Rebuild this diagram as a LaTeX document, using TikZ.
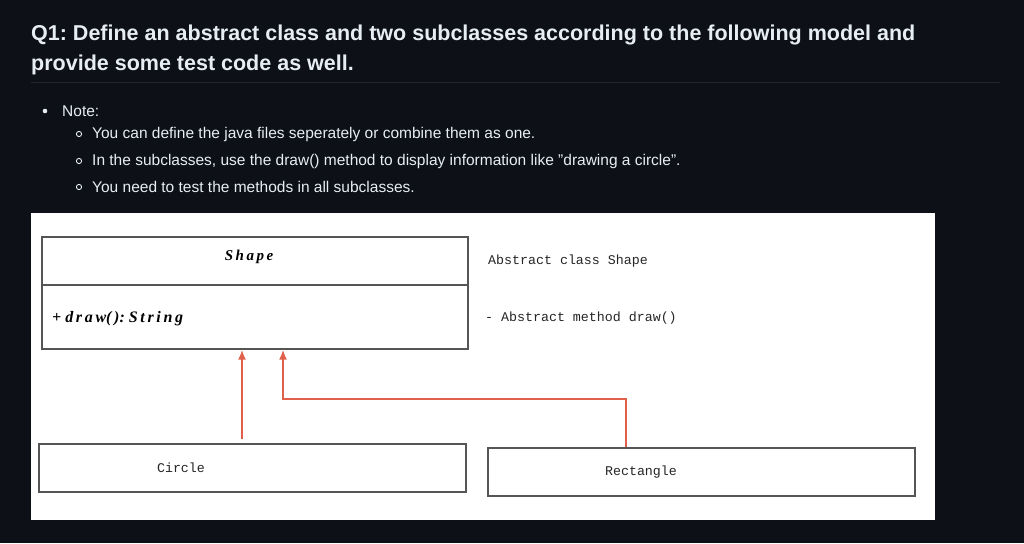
\documentclass[tikz,border=0pt]{standalone}
\usepackage{fontspec}
\setmainfont{Liberation Sans}
\newfontfamily\codefont{Liberation Mono}
\newfontfamily\umlfont{Liberation Serif}
\usetikzlibrary{positioning,arrows.meta}
\frenchspacing
\definecolor{pagebg}{HTML}{0D1117}
\definecolor{pagetext}{HTML}{E6EDF3}
\definecolor{rulecol}{HTML}{21262D}
\definecolor{boxline}{HTML}{555555}
\definecolor{inhred}{HTML}{E0604A}
\tikzset{
	umlbox/.style={draw=boxline, line width=1.2pt, fill=white, inner sep=0pt},
	codetext/.style={font=\codefont\fontsize{13.3}{15}\selectfont, text=black!85, inner sep=0pt},
	notetext/.style={font=\fontsize{15.5}{18}\selectfont, text=pagetext, anchor=west, inner sep=0pt},
	titletext/.style={font=\bfseries\fontsize{21.5}{25}\selectfont, text=pagetext, anchor=west, inner sep=0pt},
	inh/.style={draw=inhred, line width=2pt, -{Latex[length=10pt,width=8pt]}},
}
\begin{document}
\begin{tikzpicture}[x=1pt,y=-1pt]
	\fill[pagebg] (0,0) rectangle (1024,543);
	\useasboundingbox (0,0) rectangle (1024,543);
	% heading
	\node[titletext] (title1) at (31,35) {Q1: Define an abstract class and two subclasses according to the following model and};
	\node[titletext] (title2) at (31,65) {provide some test code as well.};
	\draw[rulecol, line width=1pt] (31,82) -- (1000,82);
	% notes
	\fill[pagetext] (45,111) circle (2.3);
	\node[notetext] (note) at (62,111) {Note:};
	\foreach \y/\txt in {134/{You can define the java files seperately or combine them as one.},
		161/{In the subclasses, use the draw() method to display information like \symbol{34}drawing a circle\symbol{34}.},
		187/{You need to test the methods in all subclasses.}} {
		\draw[pagetext, line width=0.9pt] (79,\y) circle (2.6);
		\node[notetext] at (92,\y) {\txt};
	}
	% model
	\fill[white] (31,213) rectangle (935,520);
	\node[umlbox, minimum width=426pt, minimum height=48pt] (shape) at (255,261) {};
	\node[umlbox, minimum width=426pt, minimum height=64pt] (attr) at (255,317) {};
	\node[inner sep=0pt, font=\umlfont\bfseries\itshape\fontsize{15}{17}\selectfont] (shapename) at (249,257) {S\,h\,a\,p\,e};
	\node[anchor=west, inner sep=0pt, font=\umlfont\bfseries\itshape\fontsize{16}{18}\selectfont] (drawop) at (52,319) {+ d\,r\,a\,w(\,): S\,t\,r\,i\,n\,g};
	\node[codetext, anchor=west] (absclass) at (488,261) {Abstract class Shape};
	\node[codetext, anchor=west] (absmethod) at (485,318) {- Abstract method draw()};
	\node[umlbox, minimum width=427pt, minimum height=48pt] (circle) at (252.5,468) {};
	\node[codetext] (circlename) at (181,468) {Circle};
	\node[umlbox, minimum width=427pt, minimum height=48pt] (rect) at (701.5,472) {};
	\node[codetext] (rectname) at (641,472) {Rectangle};
	% inheritance
	\coordinate (cfoot) at (242,439);
	\coordinate (rfoot) at (rect.north -| 626,0);
	\draw[inh] (cfoot) -- (cfoot |- attr.south);
	\draw[inh] (rfoot) |- ([xshift=28pt, yshift=-49pt]attr.south) -- ([xshift=28pt]attr.south);
\end{tikzpicture}
\end{document}
